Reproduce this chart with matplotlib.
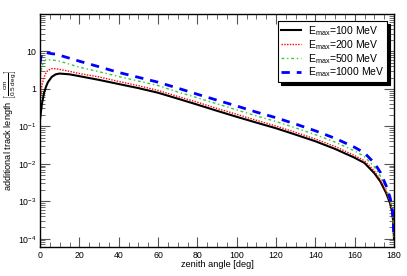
import matplotlib
matplotlib.use("Agg")
import matplotlib.pyplot as plt
from matplotlib.ticker import MultipleLocator, LogLocator, FixedLocator, NullFormatter

plt.rcParams['font.family'] = ['Liberation Sans', 'DejaVu Sans']
plt.rcParams['mathtext.fontset'] = 'custom'
plt.rcParams['mathtext.rm'] = 'Liberation Sans'
plt.rcParams['mathtext.it'] = 'Liberation Sans'

# zenith angle grid [deg]
angle = [0, 0.5, 1, 2, 3, 4, 6, 8, 10, 15, 20, 30, 40, 50, 60, 70, 80, 90, 100,
         110, 120, 130, 140, 150, 160, 165, 170, 173, 176, 178, 179, 179.5, 180]

# additional track length, one list per E_max
e100 = [0.15, 0.25, 0.4, 0.76, 1.12, 1.5, 2.1, 2.45, 2.57, 2.45, 2.19, 1.74, 1.35, 1.05,
        0.79, 0.55, 0.38, 0.26, 0.18, 0.126, 0.089, 0.06, 0.04, 0.025, 0.0145, 0.0105,
        0.0056, 0.0034, 0.00166, 0.00089, 0.00054, 0.00032, 0.0001]
e200 = [0.47, 0.8, 1.26, 2.0, 2.63, 3.16, 3.47, 3.47, 3.31, 2.95, 2.57, 2.09, 1.58, 1.22,
        0.91, 0.63, 0.44, 0.30, 0.21, 0.145, 0.102, 0.069, 0.046, 0.029, 0.0166, 0.012,
        0.0065, 0.0038, 0.0018, 0.00095, 0.00056, 0.00033, 0.0001]
e500 = [1.7, 2.8, 4.0, 5.5, 6.0, 6.0, 5.9, 5.75, 5.5, 4.57, 3.8, 2.88, 2.14, 1.62,
        1.23, 0.83, 0.58, 0.40, 0.275, 0.19, 0.135, 0.091, 0.06, 0.038, 0.022, 0.0155,
        0.0083, 0.0048, 0.0022, 0.0011, 0.00063, 0.00035, 0.0001]
e1000 = [4.8, 7.1, 8.7, 9.5, 9.5, 9.1, 8.7, 8.5, 7.9, 6.6, 5.5, 3.9, 2.75, 2.04,
         1.51, 1.05, 0.72, 0.5, 0.35, 0.24, 0.17, 0.115, 0.076, 0.048, 0.0275, 0.0195,
         0.0105, 0.006, 0.0026, 0.00126, 0.0007, 0.00038, 0.0001]

labels = ['E$_{max}$=100 MeV', 'E$_{max}$=200 MeV', 'E$_{max}$=500 MeV', 'E$_{max}$=1000 MeV']
ytick_vals = [1e-4, 1e-3, 1e-2, 1e-1, 1, 10]
ytick_text = ['10$^{-4}$', '10$^{-3}$', '10$^{-2}$', '10$^{-1}$', '1', '10']

fig = plt.figure(figsize=(4.07, 2.76), dpi=100)
ax = fig.add_axes([40/407, 1-247/276, 354/407, 233/276])

ax.plot(angle, e100, color='black', lw=1.5, label=labels[0])
ax.plot(angle, e200, color='red', lw=1.0, ls=(0, (1, 1)), label=labels[1])
ax.plot(angle, e500, color='#33cc33', lw=1.0, ls=(0, (2, 2, 1, 2)), label=labels[2])
ax.plot(angle, e1000, color='blue', lw=2.0, ls=(0, (3, 2.5)), label=labels[3])

ax.set_yscale('log')
ax.set_xlim(0, 180)
ax.set_ylim(6e-5, 100)

ax.xaxis.set_major_locator(MultipleLocator(20))
ax.xaxis.set_minor_locator(MultipleLocator(5))
ax.yaxis.set_major_locator(FixedLocator(ytick_vals))
ax.set_yticklabels(ytick_text)
ax.yaxis.set_minor_locator(LogLocator(base=10, subs=range(2, 10)))
ax.yaxis.set_minor_formatter(NullFormatter())
ax.tick_params(which='both', direction='in', top=True, right=True, labelsize=6.3, color='#555555')
ax.tick_params(axis='x', which='major', pad=3)
ax.tick_params(axis='y', which='major', pad=2.5)
ax.tick_params(which='major', length=7)
ax.tick_params(which='minor', length=3.5)
for s in ax.spines.values():
    s.set_linewidth(1.0)

ax.set_xlabel('zenith angle [deg]', fontsize=6.6, labelpad=0)
ax.xaxis.set_label_coords(0.5, -0.054)
ax.set_ylabel(r'additional track length $\left[\frac{\mathrm{cm}}{\mathrm{0.5\ deg}}\right]$', fontsize=6.6)
ax.yaxis.set_label_coords(-0.06, 0.5)

leg = ax.legend(loc='upper right', bbox_to_anchor=(387/407, 1-21/276), bbox_transform=fig.transFigure,
                fontsize=7.5, frameon=True, fancybox=False, shadow={'color': 'black', 'alpha': 1},
                handlelength=1.9, borderpad=0.3, labelspacing=0.0, handletextpad=0.6, borderaxespad=0)
leg.get_frame().set_edgecolor('black')
leg.get_frame().set_linewidth(0.8)
leg.get_frame().set_alpha(1)

fig.savefig('out.png', dpi=100)
